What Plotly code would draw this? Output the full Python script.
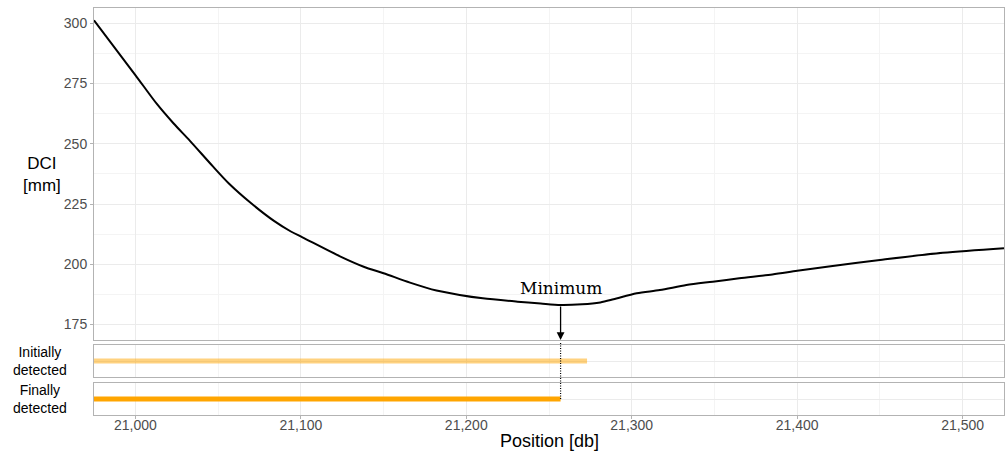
import numpy as np
import plotly.graph_objects as go
from plotly.subplots import make_subplots

# ---- data ----
position = [20975, 21000, 21013, 21023, 21033, 21047, 21057, 21070, 21084, 21094,
            21101, 21124, 21138, 21150, 21166, 21182, 21196, 21210, 21231, 21245,
            21257, 21270, 21281, 21289, 21303, 21317, 21333, 21349, 21365, 21385,
            21400, 21418, 21450, 21488, 21525]
dci = [301.2, 278.5, 266.5, 258.5, 251.2, 240.5, 233.2, 225.3, 217.9, 213.6,
       211.2, 203.2, 199.0, 196.3, 192.4, 189.1, 187.3, 185.9, 184.5, 183.7,
       183.1, 183.4, 184.2, 185.5, 188.0, 189.3, 191.4, 192.8, 194.2, 195.8,
       197.3, 199.0, 201.8, 204.8, 206.7]

initial_start, initial_end = 20975, 21273
final_start = 20975

x_tickvals = [21000, 21100, 21200, 21300, 21400, 21500]
x_ticktext = ["21,000", "21,100", "21,200", "21,300", "21,400", "21,500"]
y_tickvals = [175, 200, 225, 250, 275, 300]

panel_labels = ["Initially<br>detected", "Finally<br>detected"]

# minimum derived from data
i_min = int(np.argmin(dci))
min_pos = position[i_min]
min_val = dci[i_min]

XR = [20975, 21525]
YR = [168.6, 306.3]

GRID = "#EBEBEB"
MINOR = "#F4F4F4"
BORDER = "#B3B3B3"
TICKC = "#4D4D4D"

fig = make_subplots(rows=3, cols=1, shared_xaxes=True)

fig.add_trace(go.Scatter(x=position, y=dci, mode="lines",
                         line=dict(color="black", width=2, shape="spline", smoothing=0.8),
                         hoverinfo="skip", showlegend=False), row=1, col=1)
fig.add_trace(go.Scatter(x=[initial_start, initial_end], y=[1, 1], mode="lines",
                         line=dict(color="rgba(255,165,0,0.5)", width=5), showlegend=False), row=2, col=1)
fig.add_trace(go.Scatter(x=[final_start, min_pos], y=[1, 1], mode="lines",
                         line=dict(color="#FFA500", width=5), showlegend=False), row=3, col=1)

H = 452
t, b = 8, 37
ph = H - t - b


def dom(top_px, bot_px):
    return [(H - b - bot_px) / ph, (H - b - top_px) / ph]


d1 = dom(8, 340)
d2 = dom(345, 377)
d3 = dom(383, 415)

common_x = dict(range=XR, showline=True, mirror=True, linecolor=BORDER, linewidth=1,
                showgrid=True, gridcolor=GRID, gridwidth=1, zeroline=False,
                tickvals=x_tickvals,
                minor=dict(dtick=50, tick0=21000, showgrid=True, gridcolor=MINOR, gridwidth=1))

fig.update_layout(
    width=1005, height=452, margin=dict(l=94, r=1, t=t, b=b),
    plot_bgcolor="white", paper_bgcolor="white",
    font=dict(family="Liberation Sans, Arial, sans-serif"),
    showlegend=False,
    xaxis=dict(common_x, showticklabels=False),
    xaxis2=dict(common_x, showticklabels=False),
    xaxis3=dict(common_x, ticktext=x_ticktext, showticklabels=True, ticks="outside", ticklen=3,
                tickcolor=BORDER, ticklabelstandoff=-6, tickfont=dict(size=14, color=TICKC)),
    yaxis=dict(domain=d1, range=YR, tickvals=y_tickvals, showline=True, mirror=True, linecolor=BORDER,
               showgrid=True, gridcolor=GRID, zeroline=False, ticks="outside", ticklen=3, tickcolor=BORDER,
               tickfont=dict(size=14, color=TICKC),
               minor=dict(dtick=12.5, tick0=0, showgrid=True, gridcolor=MINOR)),
    yaxis2=dict(domain=d2, range=[0, 2], tickvals=[1], showticklabels=False, showline=True, mirror=True,
                linecolor=BORDER, showgrid=True, gridcolor=GRID, zeroline=False),
    yaxis3=dict(domain=d3, range=[0, 2], tickvals=[1], showticklabels=False, showline=True, mirror=True,
                linecolor=BORDER, showgrid=True, gridcolor=GRID, zeroline=False),
)

# arrow from minimum down to panel bottom
fig.add_annotation(x=min_pos, y=YR[0], ax=min_pos, ay=min_val, xref="x", yref="y", axref="x", ayref="y",
                   showarrow=True, arrowhead=2, arrowsize=1.2, arrowwidth=1.3, arrowcolor="black", text="")
fig.add_annotation(x=min_pos, y=min_val, xref="x", yref="y", text="Minimum", showarrow=False,
                   yshift=17, font=dict(family="DejaVu Serif, serif", size=17, color="black"))

# dotted connector
fig.add_shape(type="line", xref="x", yref="paper", x0=min_pos, x1=min_pos,
              y0=(d3[0] + d3[1]) / 2, y1=d2[1] + 0.005, line=dict(color="black", width=1.2, dash="1px,1.5px"))

# y title
fig.add_annotation(x=0, xref="paper", xanchor="center", xshift=-52, y=(d1[0] + d1[1]) / 2, yref="paper",
                   yanchor="middle", text="DCI<br>[mm]", showarrow=False, font=dict(size=17, color="black"))

# panel labels
for lab, d in zip(panel_labels, [d2, d3]):
    fig.add_annotation(x=0, xshift=-54, xanchor="center", xref="paper", y=(d[0] + d[1]) / 2, yref="paper",
                       yanchor="middle", text=lab, showarrow=False, font=dict(size=14, color="black"))

# x title
fig.add_annotation(x=0.5, xref="paper", y=0, yref="paper", yshift=-14, yanchor="top",
                   text="Position [db]", showarrow=False, font=dict(size=18, color="black"))

fig.write_html("out.html")
